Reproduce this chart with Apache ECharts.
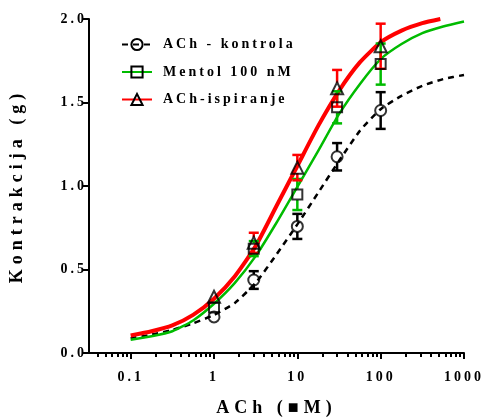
<!DOCTYPE html>
<html>
<head>
<meta charset="utf-8">
<script src="https://cdn.jsdelivr.net/npm/echarts@6/dist/echarts.min.js"></script>
<style>html,body{margin:0;padding:0;background:#fff}#c{width:483px;height:417px}</style>
</head>
<body>
<div id="c"></div>
<script>
// ---- data ----
const seriesNames = ['ACh - kontrola', 'Mentol 100 nM', 'ACh-ispiranje'];
const xTickValues = [0.1, 1, 10, 100, 1000];
const xTickLabels = ['0.1', '1', '10', '100', '1000'];
const xMinorTicks = [0.04,0.05,0.06,0.07,0.08,0.09,0.2,0.3,0.4,0.5,0.6,0.7,0.8,0.9,2,3,4,5,6,7,8,9,20,30,40,50,60,70,80,90,200,300,400,500,600,700,800,900];
const pointConc = [1, 3, 10, 30, 100];
const kontrolaMean = [0.216, 0.437, 0.758, 1.175, 1.452];
const kontrolaSem  = [0.02, 0.053, 0.075, 0.082, 0.11];
const mentolMean = [0.273, 0.625, 0.949, 1.471, 1.73];
const mentolSem  = [0.025, 0.045, 0.093, 0.096, 0.123];
const ispiranjeMean = [0.337, 0.66, 1.11, 1.585, 1.837];
const ispiranjeSem  = [0.03, 0.06, 0.076, 0.11, 0.135];
const curveConc = [0.1, 0.178, 0.316, 0.562, 1, 1.78, 3.16, 5.62, 10, 17.8, 31.6, 56.2, 100, 178, 316, 562, 1000];
const kontrolaCurve = [0.088, 0.11, 0.138, 0.178, 0.228, 0.30, 0.42, 0.59, 0.77, 0.96, 1.15, 1.33, 1.46, 1.54, 1.60, 1.64, 1.665];
const mentolCurve   = [0.08, 0.10, 0.13, 0.195, 0.295, 0.42, 0.58, 0.78, 0.995, 1.21, 1.43, 1.61, 1.76, 1.85, 1.915, 1.955, 1.985];
const ispiranjeConc = [0.1, 0.178, 0.316, 0.562, 1, 1.78, 3.16, 5.62, 10, 17.8, 31.6, 56.2, 100, 178, 316, 520];
const ispiranjeCurve = [0.105, 0.13, 0.165, 0.228, 0.325, 0.46, 0.64, 0.88, 1.12, 1.36, 1.57, 1.74, 1.86, 1.93, 1.975, 2.0];

// ---- letter-spaced text (style only) ----
(function(){
  const P = CanvasRenderingContext2D.prototype;
  if (!('letterSpacing' in P)) return;
  function sp(font){ const m = /(\d+(?:\.\d+)?)px/.exec(font||''); const s = m ? parseFloat(m[1]) : 12; return s >= 16 ? '5px' : '3px'; }
  const of = P.fillText, os = P.strokeText, om = P.measureText;
  P.fillText = function(){ this.letterSpacing = sp(this.font); return of.apply(this, arguments); };
  P.strokeText = function(){ this.letterSpacing = sp(this.font); return os.apply(this, arguments); };
  P.measureText = function(){ this.letterSpacing = sp(this.font); return om.apply(this, arguments); };
})();

const L = Math.log10;
const FONT = 'Liberation Serif';
const colors = ['#000000', '#00bb00', '#ff0000'];

function curve(conc, vals){ return conc.map((c,i)=>[L(c), vals[i]]); }
function pts(mean){ return pointConc.map((c,i)=>[L(c), mean[i]]); }
function errs(mean, sem){ return pointConc.map((c,i)=>[L(c), mean[i], sem[i]]); }

function errRender(color){
  return function(params, api){
    const x = api.value(0), m = api.value(1), e = api.value(2);
    const c = api.coord([x, m]);
    const t = api.coord([x, m + e]);
    const b = api.coord([x, m - e]);
    const gap = 5.5, cw = 5;
    const st = { stroke: color, lineWidth: 2.5 };
    const ch = [];
    if (c[1] - t[1] > gap) {
      ch.push({type:'line', shape:{x1:c[0], y1:c[1]-gap, x2:c[0], y2:t[1]}, style:st});
      ch.push({type:'line', shape:{x1:c[0]-cw, y1:t[1], x2:c[0]+cw, y2:t[1]}, style:st});
    }
    if (b[1] - c[1] > gap) {
      ch.push({type:'line', shape:{x1:c[0], y1:c[1]+gap, x2:c[0], y2:b[1]}, style:st});
      ch.push({type:'line', shape:{x1:c[0]-cw, y1:b[1], x2:c[0]+cw, y2:b[1]}, style:st});
    }
    return {type:'group', children: ch};
  };
}

const symStyle = { color: 'rgba(255,255,255,0)', borderColor: '#000', borderWidth: 2 };
const symbols = ['circle', 'rect', 'triangle'];
const symSizes = [11, 10, 12];
const lineStyles = [
  { color: colors[0], width: 2.5, type: [6, 5] },
  { color: colors[1], width: 2.5 },
  { color: colors[2], width: 4 }
];
const curvesData = [curve(curveConc, kontrolaCurve), curve(curveConc, mentolCurve), curve(ispiranjeConc, ispiranjeCurve)];
const means = [kontrolaMean, mentolMean, ispiranjeMean];
const sems = [kontrolaSem, mentolSem, ispiranjeSem];

const series = [];
for (let i = 0; i < 3; i++) {
  series.push({
    name: seriesNames[i], type: 'line', data: curvesData[i], smooth: 0.2,
    showSymbol: false, symbol: symbols[i], symbolSize: symSizes[i],
    itemStyle: symStyle, lineStyle: lineStyles[i], z: 2 + i * 0.1, silent: true, animation: false
  });
}
for (let i = 0; i < 3; i++) {
  series.push({
    name: 'err' + i, type: 'custom', data: errs(means[i], sems[i]),
    renderItem: errRender(colors[i]), encode: { x: 0, y: 1 }, z: 3, animation: false
  });
}
for (let i = 0; i < 3; i++) {
  series.push({
    name: 'pts' + i, type: 'scatter', data: pts(means[i]), symbol: symbols[i],
    symbolSize: symSizes[i], itemStyle: symStyle, z: 4, animation: false
  });
}

const chart = echarts.init(document.getElementById('c'), null, { renderer: 'canvas' });
chart.setOption({
  animation: false,
  backgroundColor: '#fff',
  textStyle: { fontFamily: FONT, fontWeight: 'bold', color: '#000' },
  grid: { left: 89, right: 19, top: 19, bottom: 64, containLabel: false, outerBoundsMode: 'none' },
  legend: {
    data: seriesNames, orient: 'vertical', left: 116, top: 31,
    itemWidth: 30, itemHeight: 14, itemGap: 10.5,
    textStyle: { fontFamily: FONT, fontWeight: 'bold', fontSize: 14, color: '#000', padding: [0,0,0,6] }
  },
  xAxis: [{
    type: 'value', min: -1.5, max: 3,
    name: 'ACh (\u25A0M)', nameLocation: 'middle', nameGap: 44,
    nameTextStyle: { fontFamily: FONT, fontWeight: 'bold', fontSize: 18, color: '#000' },
    axisLine: { onZero: false, lineStyle: { color: '#000', width: 2 } },
    axisTick: { customValues: xTickValues.map(L), length: 6, lineStyle: { color: '#000', width: 2 } },
    axisLabel: { customValues: xTickValues.map(L), margin: 16, fontFamily: FONT, fontWeight: 'bold', fontSize: 14, color: '#000',
      formatter: function(v){ const k = xTickValues.findIndex(t => Math.abs(L(t) - v) < 1e-6); return k >= 0 ? xTickLabels[k] : ''; } },
    splitLine: { show: false }
  }, {
    type: 'value', min: -1.5, max: 3, gridIndex: 0, position: 'bottom',
    axisLine: { show: false },
    axisTick: { customValues: xMinorTicks.map(L), length: 4, lineStyle: { color: '#000', width: 2 } },
    axisLabel: { show: false }, splitLine: { show: false }
  }],
  yAxis: {
    type: 'value', min: 0, max: 2, interval: 0.5,
    name: 'Kontrakcija (g)', nameLocation: 'middle', nameGap: 60,
    nameTextStyle: { fontFamily: FONT, fontWeight: 'bold', fontSize: 18, color: '#000' },
    axisLine: { show: true, onZero: false, lineStyle: { color: '#000', width: 2 } },
    axisTick: { show: true, length: 6, lineStyle: { color: '#000', width: 2 } },
    axisLabel: { margin: 2, fontFamily: FONT, fontWeight: 'bold', fontSize: 14, color: '#000', formatter: v => v.toFixed(1) },
    splitLine: { show: false }
  },
  series: series
});
</script>
</body>
</html>
